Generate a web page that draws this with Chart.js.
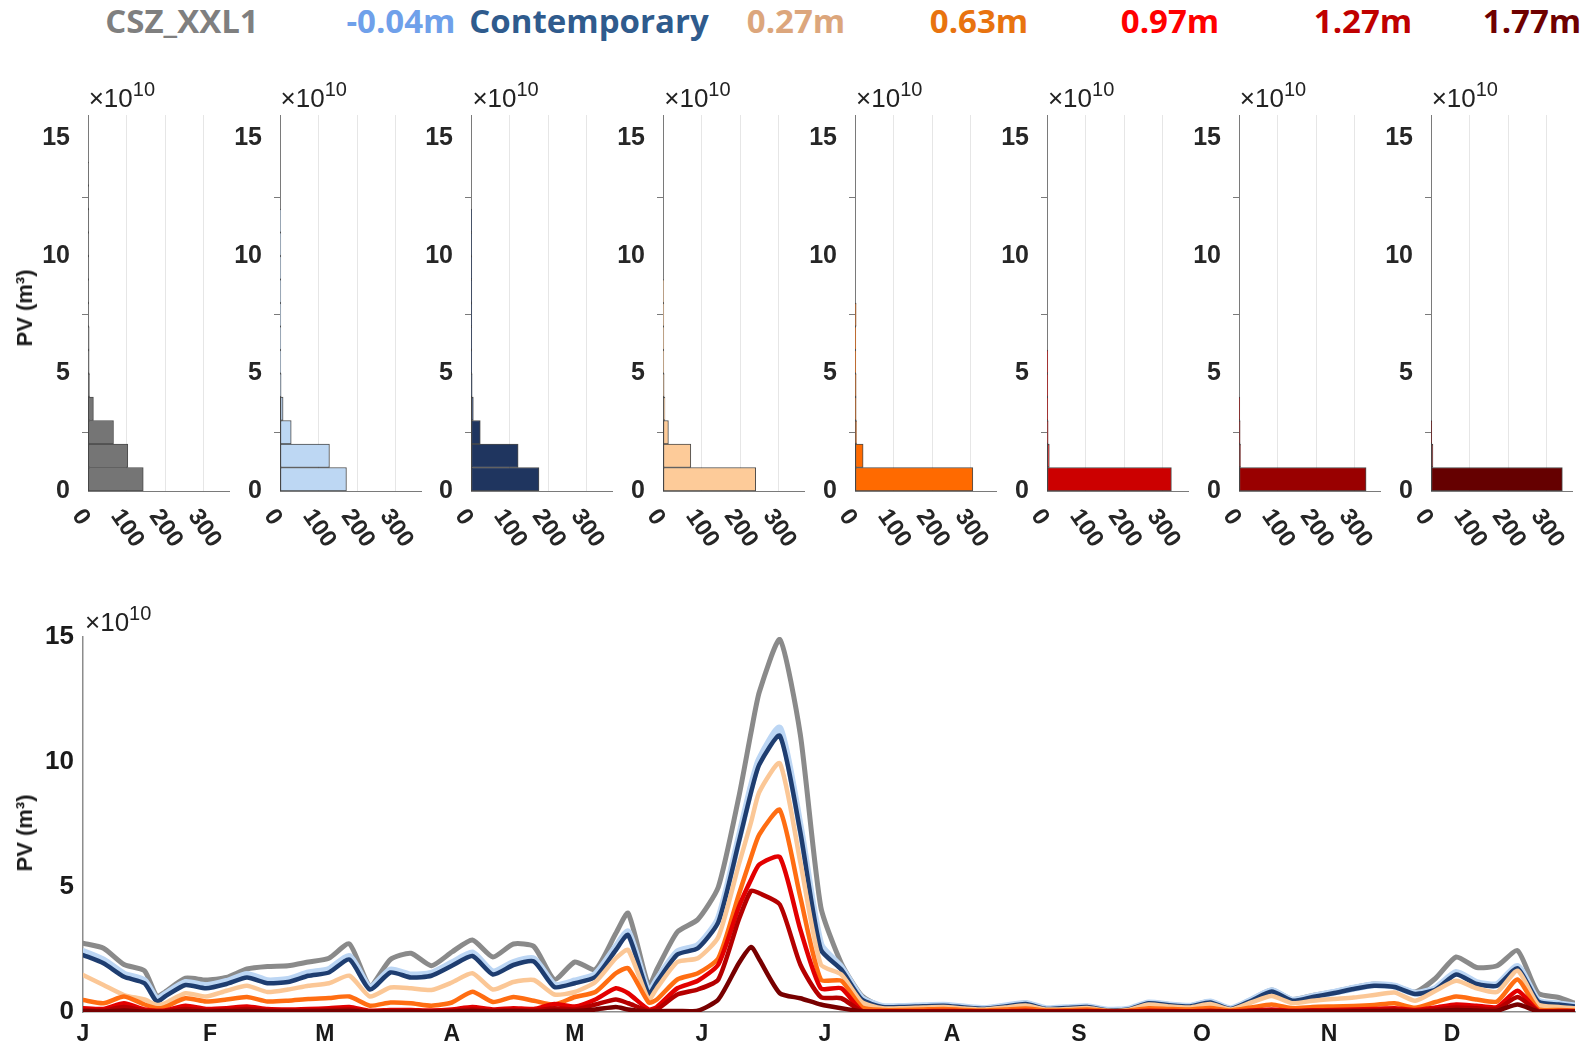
<!DOCTYPE html>
<html lang="en">
<head>
<meta charset="utf-8" />
<title>PV by sea-level scenario</title>
<script src="https://cdn.jsdelivr.net/npm/chart.js@4.4.1/dist/chart.umd.min.js"></script>
<style>
  body { margin: 0; width: 1589px; height: 1047px; position: relative; overflow: hidden; background: #fff;
         font-family: 'Liberation Sans', Arial, sans-serif; }
  canvas { position: absolute; }
  .key { position: absolute; top: 4px; font: 700 33px 'Open Sans', sans-serif; line-height: 33px;
         transform: translateX(-50%); white-space: nowrap; }
  .mult { position: absolute; font-size: 26px; line-height: 26px; color: #222; white-space: nowrap; }
  .mult sup { font-size: 20px; vertical-align: baseline; position: relative; top: -11px; }
  .ylab { position: absolute; font-weight: 700; font-size: 22px; color: #1a1a1a; white-space: nowrap;
          transform: translate(-50%, -50%) rotate(-90deg); }
</style>
</head>
<body>
<script>
// scenarios, left to right
const scenarios = ['CSZ_XXL1', '-0.04m', 'Contemporary', '0.27m', '0.63m', '0.97m', '1.27m', '1.77m'];
const keyColors = ['#7f7f7f', '#6fa0ea', '#2f5b8d', '#dca67c', '#e8730f', '#ff0000', '#c00000', '#6e0000'];
const barColors = ['#757575', '#bdd7f3', '#1f355f', '#fdcb99', '#ff6a00', '#cc0000', '#990000', '#650000'];
const lineColors = ['#8a8a8a', '#bcd6f4', '#1e3d70', '#fbc796', '#ff6d12', '#e30000', '#b50000', '#780000'];

// days per 1e10 m3 bin (0-1, 1-2, ...)
const histCSZ          = [143, 103, 66, 14, 4, 3, 3, 2, 2, 2, 2, 2, 1, 1, 0, 0];
const histMinus004     = [172, 128, 29, 8, 3, 2, 2, 2, 2, 2, 2, 1, 0, 0, 0, 0];
const histContemporary = [176, 122, 24, 6, 3, 2, 2, 2, 2, 2, 1, 1, 0, 0, 0, 0];
const hist027          = [240, 72, 14, 5, 3, 2, 2, 2, 1, 0, 0, 0, 0, 0, 0, 0];
const hist063          = [305, 21, 4, 3, 3, 2, 2, 3, 0, 0, 0, 0, 0, 0, 0, 0];
const hist097          = [322, 6, 3, 2, 2, 2, 0, 0, 0, 0, 0, 0, 0, 0, 0, 0];
const hist127          = [329, 4, 3, 2, 0, 0, 0, 0, 0, 0, 0, 0, 0, 0, 0, 0];
const hist177          = [340, 5, 2, 0, 0, 0, 0, 0, 0, 0, 0, 0, 0, 0, 0, 0];
const histTicks = [0, 100, 200, 300];
const pvTicks = [0, 5, 10, 15];

// day of year for the daily PV curves (x 1e10 m3)
const days = [1, 6, 11, 16, 19, 21, 26, 31, 36, 41, 46, 51, 56, 61, 66,
  71, 76, 81, 86, 91, 96, 101, 106, 111, 116, 121, 126, 131, 134,
  139, 141, 146, 151, 156, 161, 164, 166, 171, 176, 181, 186, 191, 196,
  201, 206, 211, 216, 221, 226, 231, 236, 241, 246, 251, 256, 261, 266,
  271, 276, 281, 286, 291, 296, 301, 306, 311, 316, 321, 326, 331, 336,
  341, 346, 351, 356, 361, 365];
const pvCSZ = [2.75, 2.55, 1.9, 1.65, 0.62, 0.8, 1.35, 1.28, 1.38, 1.72, 1.82, 1.85, 2.0, 2.15, 2.72,
  1.05, 2.1, 2.35, 1.85, 2.4, 2.88, 2.2, 2.72, 2.62, 1.3, 2.0, 1.7, 3.15, 3.95,
  1.05, 1.7, 3.2, 3.7, 5.0, 8.6, 11.2, 12.8, 14.9, 11.1, 4.2, 1.95, 0.65, 0.22,
  0.21, 0.25, 0.28, 0.2, 0.15, 0.25, 0.36, 0.14, 0.18, 0.22, 0.07, 0.12, 0.38, 0.3,
  0.25, 0.42, 0.14, 0.5, 0.88, 0.5, 0.66, 0.8, 0.98, 1.12, 1.05, 0.8, 1.35, 2.2,
  1.78, 1.85, 2.45, 0.75, 0.58, 0.35];
const pvMinus004 = [2.42, 2.08, 1.52, 1.25, 0.5, 0.7, 1.18, 1.05, 1.22, 1.5, 1.25, 1.3, 1.56, 1.7, 2.22,
  0.98, 1.68, 1.48, 1.55, 1.96, 2.36, 1.6, 1.98, 2.12, 1.08, 1.24, 1.5, 2.6, 3.2,
  0.78, 1.28, 2.4, 2.66, 3.72, 6.95, 9.0, 10.1, 11.35, 7.4, 2.7, 1.78, 0.55, 0.22,
  0.22, 0.25, 0.27, 0.2, 0.14, 0.24, 0.34, 0.13, 0.17, 0.21, 0.07, 0.11, 0.36, 0.28,
  0.23, 0.4, 0.13, 0.47, 0.85, 0.47, 0.62, 0.78, 0.95, 1.09, 1.03, 0.75, 0.95, 1.58,
  1.18, 1.1, 1.82, 0.45, 0.32, 0.24];
const pvContemporary = [2.28, 1.95, 1.41, 1.15, 0.42, 0.62, 1.08, 0.95, 1.12, 1.38, 1.15, 1.2, 1.45, 1.58, 2.1,
  0.9, 1.58, 1.38, 1.45, 1.85, 2.24, 1.5, 1.88, 2.02, 1.0, 1.15, 1.4, 2.48, 3.08,
  0.72, 1.2, 2.3, 2.55, 3.6, 6.8, 8.8, 9.9, 11.05, 7.2, 2.5, 1.7, 0.5, 0.2,
  0.2, 0.23, 0.25, 0.18, 0.13, 0.22, 0.32, 0.12, 0.16, 0.2, 0.06, 0.1, 0.35, 0.27,
  0.22, 0.38, 0.12, 0.45, 0.82, 0.45, 0.6, 0.75, 0.92, 1.05, 1.0, 0.72, 0.9, 1.5,
  1.12, 1.05, 1.75, 0.42, 0.3, 0.22];
const pv027 = [1.48, 1.08, 0.68, 0.5, 0.28, 0.35, 0.75, 0.62, 0.85, 1.05, 0.8, 0.9, 1.05, 1.15, 1.45,
  0.62, 0.98, 0.95, 0.88, 1.18, 1.55, 0.9, 1.2, 1.28, 0.7, 0.8, 1.2, 2.15, 2.48,
  0.5, 0.95, 2.0, 2.15, 3.0, 5.9, 7.6, 8.8, 9.95, 6.0, 1.9, 1.5, 0.4, 0.15,
  0.15, 0.18, 0.2, 0.14, 0.1, 0.18, 0.26, 0.1, 0.12, 0.16, 0.05, 0.08, 0.3, 0.22,
  0.18, 0.32, 0.1, 0.38, 0.64, 0.35, 0.45, 0.52, 0.58, 0.68, 0.78, 0.45, 0.85, 1.25,
  0.95, 0.8, 1.65, 0.3, 0.2, 0.15];
const pv063 = [0.48, 0.35, 0.62, 0.3, 0.15, 0.2, 0.55, 0.42, 0.5, 0.6, 0.42, 0.45, 0.52, 0.56, 0.62,
  0.25, 0.38, 0.35, 0.25, 0.38, 0.81, 0.4, 0.6, 0.45, 0.3, 0.6, 0.8, 1.55, 1.75,
  0.38, 0.5, 1.3, 1.55, 2.15, 4.7, 6.2, 7.1, 8.08, 4.6, 1.3, 1.25, 0.2, 0.08,
  0.08, 0.1, 0.12, 0.08, 0.06, 0.1, 0.14, 0.06, 0.07, 0.1, 0.04, 0.05, 0.15, 0.12,
  0.1, 0.16, 0.06, 0.18, 0.3, 0.15, 0.2, 0.22, 0.24, 0.28, 0.35, 0.17, 0.4, 0.62,
  0.5, 0.42, 1.3, 0.12, 0.08, 0.06];
const pv097 = [0.15, 0.12, 0.35, 0.1, 0.05, 0.06, 0.25, 0.12, 0.15, 0.22, 0.12, 0.1, 0.12, 0.15, 0.2,
  0.05, 0.08, 0.08, 0.06, 0.1, 0.2, 0.1, 0.15, 0.12, 0.32, 0.22, 0.5, 0.95, 0.75,
  0.1, 0.2, 0.95, 1.25, 1.9, 4.2, 5.3, 5.9, 6.2, 3.3, 0.95, 0.95, 0.05, 0.03,
  0.03, 0.03, 0.04, 0.03, 0.02, 0.03, 0.05, 0.02, 0.03, 0.04, 0.02, 0.02, 0.05, 0.04,
  0.03, 0.05, 0.02, 0.06, 0.1, 0.05, 0.07, 0.08, 0.1, 0.12, 0.15, 0.08, 0.18, 0.3,
  0.25, 0.2, 0.85, 0.05, 0.04, 0.03];
const pv127 = [0.08, 0.06, 0.2, 0.05, 0.03, 0.03, 0.12, 0.06, 0.08, 0.12, 0.06, 0.05, 0.06, 0.08, 0.1,
  0.03, 0.04, 0.04, 0.03, 0.05, 0.1, 0.05, 0.08, 0.06, 0.15, 0.1, 0.3, 0.5, 0.35,
  0.05, 0.1, 0.7, 0.9, 1.3, 3.7, 4.85, 4.75, 4.3, 1.9, 0.6, 0.55, 0.03, 0.02,
  0.02, 0.02, 0.03, 0.02, 0.02, 0.02, 0.03, 0.02, 0.02, 0.03, 0.02, 0.02, 0.03, 0.03,
  0.02, 0.03, 0.02, 0.04, 0.06, 0.03, 0.04, 0.05, 0.06, 0.07, 0.09, 0.05, 0.1, 0.18,
  0.15, 0.12, 0.6, 0.03, 0.02, 0.02];
const pv177 = [0.03, 0.02, 0.06, 0.02, 0.01, 0.01, 0.04, 0.02, 0.03, 0.04, 0.02, 0.02, 0.02, 0.03, 0.04,
  0.01, 0.02, 0.02, 0.01, 0.02, 0.04, 0.02, 0.03, 0.02, 0.05, 0.04, 0.1, 0.2, 0.1,
  0.02, 0.03, 0.04, 0.05, 0.5, 1.95, 2.6, 2.1, 0.75, 0.55, 0.3, 0.15, 0.03, 0.01,
  0.01, 0.01, 0.01, 0.01, 0.01, 0.01, 0.01, 0.01, 0.01, 0.01, 0.01, 0.01, 0.01, 0.01,
  0.01, 0.01, 0.01, 0.02, 0.03, 0.02, 0.02, 0.02, 0.03, 0.03, 0.04, 0.02, 0.04, 0.08,
  0.06, 0.05, 0.3, 0.02, 0.01, 0.01];

const monthStarts = [1, 32, 60, 91, 121, 152, 182, 213, 244, 274, 305, 335];
const monthLabels = ['J', 'F', 'M', 'A', 'M', 'J', 'J', 'A', 'S', 'O', 'N', 'D'];

const histData = [histCSZ, histMinus004, histContemporary, hist027, hist063, hist097, hist127, hist177];
const pvData = [pvCSZ, pvMinus004, pvContemporary, pv027, pv063, pv097, pv127, pv177];

const keyCenters = [182, 401, 589, 796, 979, 1170, 1363, 1532];
const tickFont = { family: 'Liberation Sans', weight: 'bold', size: 25 };
const axisGrey = '#7a7a7a';

function addEl(tag, cls, html, style) {
  const el = document.createElement(tag);
  if (cls) el.className = cls;
  el.innerHTML = html;
  Object.assign(el.style, style);
  document.body.appendChild(el);
  return el;
}

// legend row
scenarios.forEach((name, i) => {
  addEl('div', 'key', name, { left: keyCenters[i] + 'px', color: keyColors[i] });
});

// rotated 0/100/200/300 labels under each histogram
const slantedTicks = {
  id: 'slantedTicks',
  afterDraw(chart) {
    const { ctx, chartArea } = chart;
    const x = chart.scales.x;
    ctx.save();
    ctx.font = 'bold 24px "Liberation Sans"';
    ctx.fillStyle = '#262626';
    ctx.textAlign = 'left';
    ctx.textBaseline = 'middle';
    histTicks.forEach((v) => {
      ctx.save();
      ctx.translate(x.getPixelForValue(v) - 11, chartArea.bottom + 21);
      ctx.rotate(55 * Math.PI / 180);
      ctx.fillText(String(v), 0, 0);
      ctx.restore();
    });
    ctx.restore();
  },
};

// small histograms, one per scenario
const HIST_AXIS_X0 = 87.7;
const HIST_PITCH = 191.85;
histData.forEach((counts, i) => {
  const axisX = HIST_AXIS_X0 + HIST_PITCH * i;
  const cv = document.createElement('canvas');
  cv.width = 218;
  cv.height = 476;
  cv.style.left = (axisX - 65) + 'px';
  cv.style.top = '75px';
  document.body.appendChild(cv);

  addEl('div', 'mult', '&times;10<sup>10</sup>', { left: (axisX + 1) + 'px', top: '85px' });

  new Chart(cv, {
    type: 'bar',
    data: {
      datasets: [{
        data: counts.map((c, b) => ({ x: c, y: b + 0.5 })),
        backgroundColor: barColors[i],
        borderColor: 'rgba(30,30,30,0.8)',
        borderWidth: 1,
        borderSkipped: false,
        barPercentage: 1,
        categoryPercentage: 1,
      }],
    },
    options: {
      indexAxis: 'y',
      responsive: false,
      animation: false,
      devicePixelRatio: 1,
      layout: { padding: { left: 0, right: 12, top: 40, bottom: 60 } },
      plugins: { legend: { display: false }, tooltip: { enabled: false } },
      scales: {
        x: {
          type: 'linear', min: 0, max: 365,
          afterBuildTicks: (s) => { s.ticks = histTicks.map((v) => ({ value: v })); },
          afterFit: (s) => { s.height = 0; },
          ticks: { display: false },
          grid: { drawTicks: false, color: (c) => (c.tick && c.tick.value === 0 ? 'rgba(0,0,0,0)' : '#e6e6e6') },
          border: { color: axisGrey },
        },
        y: {
          type: 'linear', min: 0, max: 16, offset: false,
          afterBuildTicks: (s) => { s.ticks = pvTicks.map((v) => ({ value: v })); },
          afterFit: (s) => { s.width = 65; },
          ticks: { font: tickFont, color: '#262626', padding: 12 },
          grid: { drawOnChartArea: false, tickLength: 6, color: axisGrey },
          border: { color: axisGrey },
        },
      },
    },
    plugins: [slantedTicks],
  });
});

addEl('div', 'ylab', 'PV (m³)', { left: '25px', top: '308px' });

// daily PV through the year
const lineCv = document.createElement('canvas');
lineCv.width = 1589;
lineCv.height = 467;
lineCv.style.left = '0px';
lineCv.style.top = '580px';
document.body.appendChild(lineCv);

addEl('div', 'mult', '&times;10<sup>10</sup>', { left: '85px', top: '609px' });
addEl('div', 'ylab', 'PV (m³)', { left: '25px', top: '833px' });

// stacking: deepest scenario on top, CSZ underneath
const drawOrder = [7, 6, 5, 4, 3, 2, 1, 0];
const lineWidths = [5, 7, 4.5, 4.5, 4.5, 4.5, 4.5, 4.5];

new Chart(lineCv, {
  type: 'line',
  data: {
    datasets: pvData.map((vals, i) => ({
      label: scenarios[i],
      data: days.map((d, k) => ({ x: d, y: vals[k] })),
      borderColor: lineColors[i],
      borderWidth: lineWidths[i],
      order: drawOrder[i],
      pointRadius: 0,
      tension: 0.2,
      fill: false,
    })),
  },
  options: {
    responsive: false,
    animation: false,
    devicePixelRatio: 1,
    layout: { padding: { left: 0, right: 14, top: 57, bottom: 0 } },
    plugins: { legend: { display: false }, tooltip: { enabled: false } },
    elements: { line: { borderCapStyle: 'round', borderJoinStyle: 'round' } },
    scales: {
      x: {
        type: 'linear', min: 1, max: 365,
        afterBuildTicks: (s) => { s.ticks = monthStarts.map((v) => ({ value: v })); },
        afterFit: (s) => { s.height = 35; },
        ticks: {
          autoSkip: false, maxRotation: 0, minRotation: 0, padding: 9,
          font: { family: 'Liberation Sans', weight: 'bold', size: 23 }, color: '#1a1a1a',
          callback: (v, idx) => monthLabels[idx],
        },
        grid: { drawOnChartArea: false, drawTicks: false },
        border: { color: '#8c8c8c', width: 1.5 },
      },
      y: {
        min: 0, max: 15,
        afterBuildTicks: (s) => { s.ticks = pvTicks.map((v) => ({ value: v })); },
        afterFit: (s) => { s.width = 83; },
        ticks: { font: { family: 'Liberation Sans', weight: 'bold', size: 26 }, color: '#1a1a1a', padding: 9 },
        grid: { drawOnChartArea: false, drawTicks: false },
        border: { color: '#8c8c8c', width: 1.5 },
      },
    },
  },
});
</script>
</body>
</html>
